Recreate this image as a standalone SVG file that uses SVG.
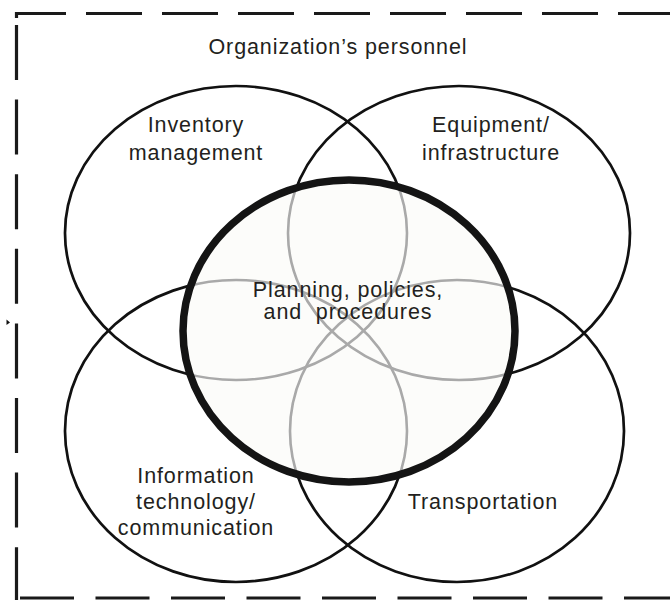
<svg xmlns="http://www.w3.org/2000/svg" xmlns:xlink="http://www.w3.org/1999/xlink" width="670" height="601" viewBox="0 0 670 601">
  <style>
    .frame { fill: none; stroke: #1a1a1a; stroke-width: 3.2; }
    .ring { fill: none; stroke: #111; stroke-width: 2.7; }
    .ring-in { fill: none; stroke: #a9a9a9; stroke-width: 2.6; }
    .core-fill { fill: #fcfcfa; stroke: none; }
    .core-edge { fill: none; stroke: #141414; stroke-width: 7.5; }
    .lbl { font-family: "Liberation Sans", Arial, Helvetica, sans-serif; font-size: 21.5px; letter-spacing: 0.9px; fill: #231f20; text-anchor: middle; }
  </style>
  <defs>
    <!-- the four domain ellipses -->
    <ellipse id="e-inv" cx="236" cy="233" rx="171" ry="147"/>
    <ellipse id="e-eqp" cx="459" cy="233" rx="171" ry="147"/>
    <ellipse id="e-ict" cx="236" cy="431" rx="171" ry="151"/>
    <ellipse id="e-trn" cx="457" cy="431" rx="167" ry="151"/>
    <ellipse id="e-core" cx="349" cy="331" rx="166" ry="151"/>
    <clipPath id="core-clip">
      <use xlink:href="#e-core"/>
    </clipPath>
  </defs>

  <rect width="670" height="601" fill="#ffffff"/>

  <!-- outer dashed boundary: the organization -->
  <g id="node-personnel">
    <line class="frame" x1="16" y1="13.5" x2="680" y2="13.5" stroke-dasharray="56 20" stroke-dashoffset="6"/>
    <line class="frame" x1="16.5" y1="12" x2="16.5" y2="18"/>
    <line class="frame" x1="16.5" y1="25" x2="16.5" y2="600" stroke-dasharray="55 19.6"/>
    <line class="frame" x1="20" y1="598" x2="680" y2="598" stroke-dasharray="54 21.5"/>
    <path d="M6.5 319.5 L10 322.5 L6.5 325 Z" fill="#111"/>
    <text class="lbl" x="338" y="54">Organization’s personnel</text>
  </g>

  <g id="node-inventory">
    <use xlink:href="#e-inv" class="ring"/>
    <text class="lbl" x="196" y="132">Inventory</text>
    <text class="lbl" x="196" y="160">management</text>
  </g>

  <g id="node-equipment">
    <use xlink:href="#e-eqp" class="ring"/>
    <text class="lbl" x="491" y="132">Equipment/</text>
    <text class="lbl" x="491" y="160">infrastructure</text>
  </g>

  <g id="node-it">
    <use xlink:href="#e-ict" class="ring"/>
    <text class="lbl" x="196" y="483">Information</text>
    <text class="lbl" x="196" y="509">technology/</text>
    <text class="lbl" x="196" y="535">communication</text>
  </g>

  <g id="node-transport">
    <use xlink:href="#e-trn" class="ring"/>
    <text class="lbl" x="483" y="509">Transportation</text>
  </g>

  <!-- central planning layer: covers the overlaps and shows them in grey -->
  <g id="node-planning">
    <use xlink:href="#e-core" class="core-fill"/>
    <g clip-path="url(#core-clip)">
      <use xlink:href="#e-inv" class="ring-in"/>
      <use xlink:href="#e-eqp" class="ring-in"/>
      <use xlink:href="#e-ict" class="ring-in"/>
      <use xlink:href="#e-trn" class="ring-in"/>
    </g>
    <use xlink:href="#e-core" class="core-edge"/>
    <text class="lbl" x="348" y="297">Planning, policies,</text>
    <text class="lbl" x="348" y="319" xml:space="preserve">and  procedures</text>
  </g>
</svg>
